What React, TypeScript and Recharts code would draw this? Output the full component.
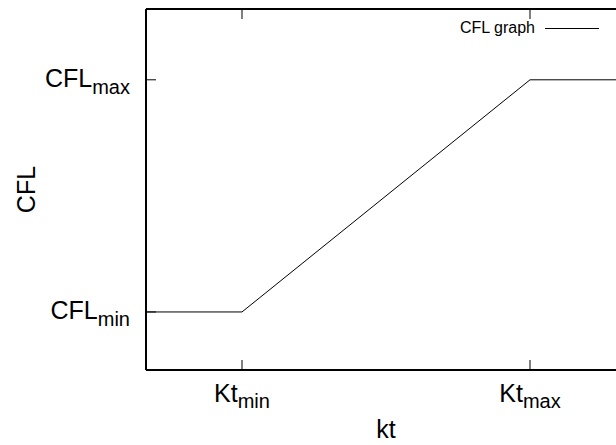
import React from 'react';
import { LineChart, Line, XAxis, YAxis, Legend } from 'recharts';

// values (symbolic axes, so arbitrary units)
const ktValues = [0, 1, 4, 5];
const cflValues = [1, 1, 5, 5];
const ktTicks = [1, 4];
const ktTickNames = ['Kt', 'Kt'];
const ktTickSubs = ['min', 'max'];
const cflTicks = [1, 5];
const cflTickNames = ['CFL', 'CFL'];
const cflTickSubs = ['min', 'max'];
const seriesName = 'CFL graph';

const data = ktValues.map((kt, i) => ({ kt, cfl: cflValues[i] }));

const FONT = '"Liberation Sans", Arial, Helvetica, sans-serif';

const BottomTick = (props: any) => {
    const { x, y, payload } = props;
    const i = ktTicks.indexOf(payload.value);
    return (
        <g>
            <line x1={x} x2={x} y1={y} y2={y - 10} stroke="#000" strokeWidth={1} />
            <text x={x} y={y + 32} textAnchor="middle" fontSize={25} fontFamily={FONT} fill="#000">
                {ktTickNames[i]}
                <tspan fontSize={20} dy={6}>{ktTickSubs[i]}</tspan>
            </text>
        </g>
    );
};

const TopTick = (props: any) => {
    const { x, y } = props;
    return <line x1={x} x2={x} y1={y} y2={y + 10} stroke="#000" strokeWidth={1} />;
};

const LeftTick = (props: any) => {
    const { x, y, payload } = props;
    const i = cflTicks.indexOf(payload.value);
    return (
        <g>
            <line x1={x} x2={x + 10} y1={y} y2={y} stroke="#000" strokeWidth={1} />
            <text x={x - 16} y={y + 7} textAnchor="end" fontSize={25} fontFamily={FONT} fill="#000">
                {cflTickNames[i]}
                <tspan fontSize={20} dy={7}>{cflTickSubs[i]}</tspan>
            </text>
        </g>
    );
};

const RightTick = (props: any) => {
    const { x, y } = props;
    return <line x1={x} x2={x - 10} y1={y} y2={y} stroke="#000" strokeWidth={1} />;
};

const XTitle = (props: any) => {
    const vb = props.viewBox || { x: 146, y: 370, width: 480, height: 75 };
    return (
        <text x={vb.x + vb.width / 2} y={vb.y + 68} textAnchor="middle" fontSize={25} fontFamily={FONT} fill="#000">
            kt
        </text>
    );
};

const YTitle = (props: any) => {
    const vb = props.viewBox || { x: 0, y: 9, width: 146, height: 361 };
    const cx = vb.x + 35;
    const cy = vb.y + vb.height / 2;
    return (
        <text x={cx} y={cy} transform={`rotate(-90, ${cx}, ${cy})`} textAnchor="middle" fontSize={25} fontFamily={FONT} fill="#000">
            CFL
        </text>
    );
};

const renderLegend = (props: any) => {
    const entry = props.payload && props.payload[0];
    return (
        <div style={{ display: 'flex', alignItems: 'center', fontFamily: FONT, fontSize: 16, color: '#000' }}>
            <span>{entry ? entry.value : seriesName}</span>
            <svg width={54} height={3} style={{ marginLeft: 10 }}>
                <line x1={0} x2={54} y1={1.5} y2={1.5} stroke="#000" strokeWidth={1} />
            </svg>
        </div>
    );
};

export default function App() {
    return (
        <div style={{ position: 'fixed', left: 0, top: 0, width: 616, height: 445, overflow: 'hidden', background: '#fff' }}>
            <LineChart width={640} height={445} data={data} margin={{ top: 0, right: 0, bottom: 0, left: 0 }}>
                <XAxis
                    xAxisId="bottom"
                    dataKey="kt"
                    type="number"
                    domain={[0, 5]}
                    ticks={ktTicks}
                    allowDataOverflow
                    height={75}
                    tickSize={0}
                    tickMargin={0}
                    tickLine={false}
                    axisLine={{ stroke: '#000', strokeWidth: 2 }}
                    tick={<BottomTick />}
                    label={XTitle}
                />
                <XAxis
                    xAxisId="top"
                    orientation="top"
                    dataKey="kt"
                    type="number"
                    domain={[0, 5]}
                    ticks={ktTicks}
                    allowDataOverflow
                    height={9}
                    tickSize={0}
                    tickMargin={0}
                    tickLine={false}
                    axisLine={{ stroke: '#000', strokeWidth: 2 }}
                    tick={<TopTick />}
                />
                <YAxis
                    yAxisId="left"
                    type="number"
                    domain={[0, 6.22]}
                    ticks={cflTicks}
                    allowDataOverflow
                    width={146}
                    tickSize={0}
                    tickMargin={0}
                    tickLine={false}
                    axisLine={{ stroke: '#000', strokeWidth: 2 }}
                    tick={<LeftTick />}
                    label={YTitle}
                />
                <YAxis
                    yAxisId="right"
                    orientation="right"
                    type="number"
                    domain={[0, 6.22]}
                    ticks={cflTicks}
                    allowDataOverflow
                    width={14}
                    tickSize={0}
                    tickMargin={0}
                    tickLine={false}
                    axisLine={{ stroke: '#000', strokeWidth: 2 }}
                    tick={<RightTick />}
                />
                <Legend
                    layout="vertical"
                    align="center"
                    verticalAlign="middle"
                    content={renderLegend}
                    wrapperStyle={{ top: 19, left: 460, width: 160 }}
                />
                <Line
                    xAxisId="bottom"
                    yAxisId="left"
                    type="linear"
                    dataKey="cfl"
                    name={seriesName}
                    stroke="#000"
                    strokeWidth={1}
                    dot={false}
                    activeDot={false}
                    isAnimationActive={false}
                />
            </LineChart>
        </div>
    );
}
